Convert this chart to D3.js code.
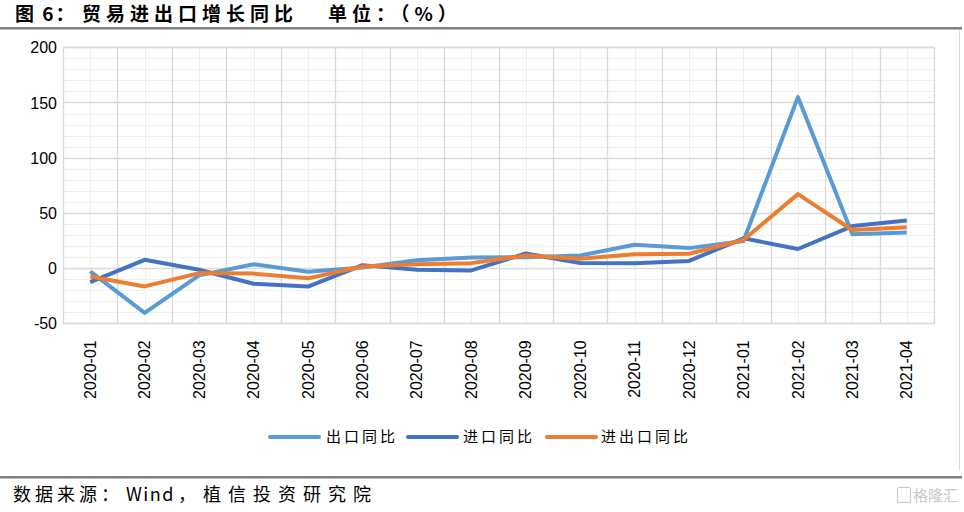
<!DOCTYPE html>
<html><head><meta charset="utf-8">
<script src="https://cdn.jsdelivr.net/npm/d3@7"></script>
<style>
html,body{margin:0;padding:0;background:#fff;}
svg{display:block;}
</style></head>
<body>
<svg id="chart" width="964" height="512"></svg>
<script>
const categories = ["2020-01","2020-02","2020-03","2020-04","2020-05","2020-06","2020-07","2020-08","2020-09","2020-10","2020-11","2020-12","2021-01","2021-02","2021-03","2021-04"];
const exportYoY = [-3, -40.6, -6.6, 3.5, -3.3, 0.5, 7.2, 9.5, 9.9, 11.4, 21.1, 18.1, 24.5, 154.9, 30.6, 32.3];
const importYoY = [-12.7, 7.5, -1.5, -14.2, -16.7, 2.7, -1.4, -2.1, 13.2, 4.7, 4.5, 6.5, 27, 17.3, 38.1, 43.1];
const totalYoY = [-7.6, -16.6, -4.5, -5.0, -9.3, 1.5, 3.5, 4.5, 11.5, 8.5, 12.5, 13, 25.5, 67, 34.5, 37];
const yTicks = [-50, 0, 50, 100, 150, 200];
const seriesNames = ["出口同比", "进口同比", "进出口同比"];
const seriesColors = ["#5B9BD5", "#4472C4", "#ED7D31"];
const titleParts = ["图 6：", "贸易进出口增长同比", "单位：（%）"];
const sourceParts = ["数据来源：", "Wind", "，", "植信投资研究院"];

const svg = d3.select("#chart");
const L = 63, R = 934, T = 47.3, B = 323.3;

const x = d3.scaleBand().domain(categories).range([L, R]).padding(0);
const y = d3.scaleLinear().domain([-50, 200]).range([B, T]);

// title
const titleX = [15, 82, 328];
const titleLS = [2, 5, 5];
titleParts.forEach((t, i) => {
  svg.append("text").attr("x", titleX[i]).attr("y", 21)
    .attr("font-family", "'Noto Sans CJK SC'").attr("font-weight", "bold")
    .attr("font-size", 19).attr("letter-spacing", titleLS[i]).attr("fill", "#000")
    .style("white-space", "pre").text(t);
});
svg.append("rect").attr("x", 0).attr("y", 27).attr("width", 962).attr("height", 2.5).attr("fill", "#808080");

// right border of chart area
svg.append("line").attr("x1", 959.5).attr("x2", 959.5).attr("y1", 30).attr("y2", 470)
  .attr("stroke", "#d9d9d9").attr("stroke-width", 1);

// minor horizontal grid
const g = svg.append("g");
g.selectAll(".hmin").data(d3.range(-50, 201, 10).filter(v => v % 50 !== 0)).join("line")
  .attr("x1", L).attr("x2", R).attr("y1", d => Math.round(y(d)) + 0.5).attr("y2", d => Math.round(y(d)) + 0.5)
  .attr("stroke", "#efefef").attr("stroke-width", 1);
// minor vertical grid at centers
g.selectAll(".vmin").data(categories).join("line")
  .attr("x1", d => Math.round(x(d) + x.bandwidth() / 2) + 0.5).attr("x2", d => Math.round(x(d) + x.bandwidth() / 2) + 0.5)
  .attr("y1", T).attr("y2", B).attr("stroke", "#efefef").attr("stroke-width", 1);
// major vertical at boundaries
g.selectAll(".vmaj").data(categories.slice(1)).join("line")
  .attr("x1", d => Math.round(x(d)) + 0.5).attr("x2", d => Math.round(x(d)) + 0.5)
  .attr("y1", T).attr("y2", B).attr("stroke", "#d9d9d9").attr("stroke-width", 1.3);
// major horizontal
g.selectAll(".hmaj").data(yTicks).join("line")
  .attr("x1", L).attr("x2", R).attr("y1", d => Math.round(y(d)) + 0.5).attr("y2", d => Math.round(y(d)) + 0.5)
  .attr("stroke", "#d9d9d9").attr("stroke-width", 1.3);
// border
g.append("rect").attr("x", L + 0.5).attr("y", Math.round(T) + 0.5).attr("width", R - L).attr("height", Math.round(B) - Math.round(T))
  .attr("fill", "none").attr("stroke", "#d9d9d9").attr("stroke-width", 1.3);

// y axis
const yAxis = svg.append("g").attr("transform", `translate(${L - 6},0)`)
  .call(d3.axisLeft(y).tickValues(yTicks).tickSize(0).tickPadding(0).tickFormat(d => String(d)));
yAxis.select(".domain").remove();
yAxis.selectAll("text").attr("font-family", "'Liberation Sans', Arial, sans-serif")
  .attr("font-size", 16).attr("fill", "#000").attr("dy", "0.35em");

// x axis
const xAxis = svg.append("g").attr("transform", `translate(0,${B})`)
  .call(d3.axisBottom(x).tickSize(0).tickPadding(0));
xAxis.select(".domain").remove();
xAxis.selectAll("text")
  .attr("font-family", "'Liberation Sans', Arial, sans-serif").attr("font-size", 16).attr("fill", "#000")
  .attr("text-anchor", "end").attr("transform", "rotate(-90)")
  .attr("x", -17).attr("y", 0).attr("dy", "0.35em");

// lines
const line = d3.line().x((d, i) => x(categories[i]) + x.bandwidth() / 2).y(d => y(d));
const allSeries = [exportYoY, importYoY, totalYoY];
allSeries.forEach((s, i) => {
  svg.append("path").datum(s).attr("d", line).attr("fill", "none")
    .attr("stroke", seriesColors[i]).attr("stroke-width", 4)
    .attr("stroke-linejoin", "round").attr("stroke-linecap", "butt");
});

// legend
const legendPos = [[270, 326], [408, 463], [547, 601]];
seriesNames.forEach((n, i) => {
  const [lx, tx] = legendPos[i];
  svg.append("line").attr("x1", lx).attr("x2", lx + 49).attr("y1", 437).attr("y2", 437)
    .attr("stroke", seriesColors[i]).attr("stroke-width", 4).attr("stroke-linecap", "round");
  svg.append("text").attr("x", tx).attr("y", 437).attr("dy", "0.35em")
    .attr("font-family", "'Noto Sans CJK SC'").attr("font-size", 15).attr("letter-spacing", 3)
    .attr("fill", "#000").text(n);
});

// footer
svg.append("rect").attr("x", 0).attr("y", 476).attr("width", 962).attr("height", 2.5).attr("fill", "#808080");
const srcX = [13, 126, 178, 203];
const srcLS = [4, 1.5, 0, 7];
sourceParts.forEach((t, i) => {
  svg.append("text").attr("x", srcX[i]).attr("y", 495).attr("dy", "0.35em")
    .attr("font-family", "'Noto Sans CJK SC'").attr("font-size", 18).attr("letter-spacing", srcLS[i])
    .attr("fill", "#000").text(t);
});
// watermark
svg.append("rect").attr("x", 897.5).attr("y", 487.5).attr("width", 13).attr("height", 15).attr("rx", 2)
  .attr("fill", "none").attr("stroke", "#c8c8c8").attr("stroke-width", 1.2);
svg.append("text").attr("x", 913).attr("y", 496).attr("dy", "0.35em")
  .attr("font-family", "'Noto Sans CJK SC'").attr("font-size", 15).attr("fill", "#c8c8c8").text("格隆汇");
</script>
</body></html>
